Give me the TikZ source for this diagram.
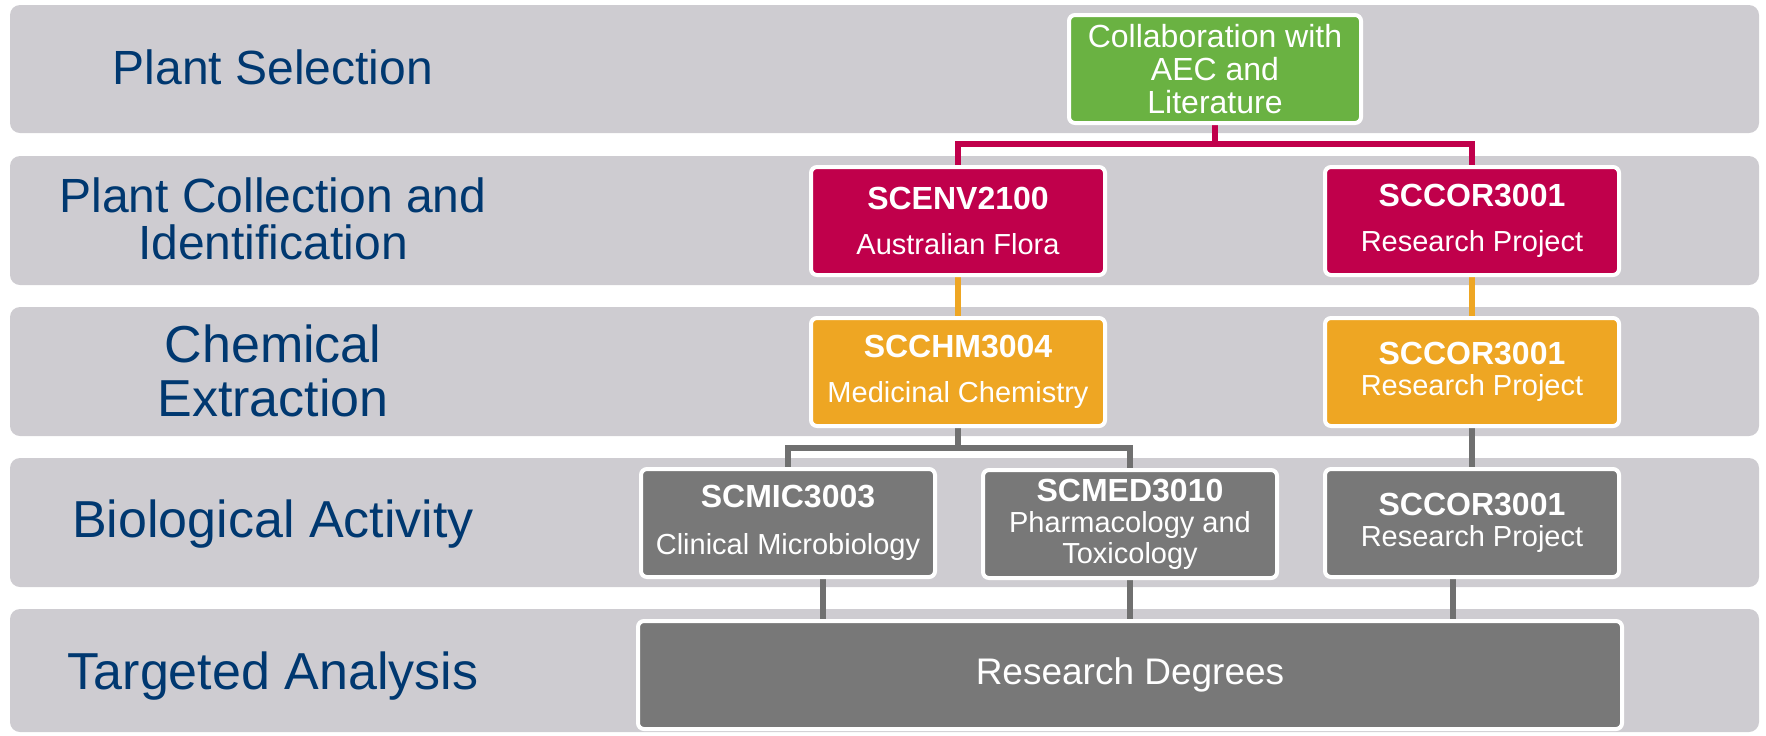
\documentclass[tikz,border=0pt]{standalone}
\usepackage{fontspec}
\setmainfont{Liberation Sans}
\usetikzlibrary{calc}
\definecolor{bandgray}{RGB}{206,204,209}
\definecolor{labelblue}{RGB}{0,56,112}
\definecolor{aecgreen}{RGB}{106,178,66}
\definecolor{unitred}{RGB}{192,0,75}
\definecolor{unitorange}{RGB}{238,166,35}
\definecolor{unitgray}{RGB}{120,120,120}
\definecolor{linegray}{RGB}{112,112,112}
\pgfdeclarelayer{back}
\pgfdeclarelayer{mid}
\pgfsetlayers{back,mid,main}
\newcommand{\course}[1]{{\fontsize{16}{15.5}\selectfont\bfseries #1}}
\tikzset{
  band/.style = {fill=bandgray, rounded corners=5pt},
  stage/.style = {text=labelblue, align=center, font=\fontsize{24}{23.5}\selectfont},
  unit/.style = {draw=white, line width=2pt, rounded corners=3pt, text=white, align=center,
    minimum width=147pt, minimum height=54pt, inner sep=1pt, font=\fontsize{14.5}{15.5}\selectfont},
  link/.style = {line width=2.6pt},
}

\begin{document}
\begin{tikzpicture}[x=0.5pt, y=-0.5pt]
\useasboundingbox (0,0) rectangle (1766,735);
% rows
\begin{pgfonlayer}{back}
\foreach \ya/\yb in {5/133, 156/285, 307/436, 458/587, 609/732}
  \fill[band] (10,\ya) rectangle (1759,\yb);
\end{pgfonlayer}
% stage labels
\node[stage] (lsel) at (273,67) {Plant Selection};
\node[stage] (lcol) at (273,219) {Plant Collection and\\Identification};
\node[stage, font=\fontsize{26}{27}\selectfont] (lchem) at (273,371) {Chemical\\Extraction};
\node[stage, font=\fontsize{26}{27}\selectfont] (lbio) at (273,524) {Biological Activity};
\node[stage, font=\fontsize{26}{27}\selectfont] (ltarg) at (273,676) {Targeted Analysis};
% units
\node[unit, fill=aecgreen, font=\fontsize{16}{16.5}\selectfont, minimum width=146pt] (aec) at (1215,69) {Collaboration with\\AEC and\\Literature};
\node[unit, fill=unitred] (env) at (958,221) {\course{SCENV2100}\\[7pt]Australian Flora};
\node[unit, fill=unitred] (cor1) at (1472,221) {\course{SCCOR3001}\\[7pt]Research Project};
\node[unit, fill=unitorange] (chm) at (958,372) {\course{SCCHM3004}\\[7pt]Medicinal Chemistry};
\node[unit, fill=unitorange] (cor2) at (1472,372) {\course{SCCOR3001}\\Research Project};
\node[unit, fill=unitgray] (mic) at (788,523) {\course{SCMIC3003}\\[8pt]Clinical Microbiology};
\node[unit, fill=unitgray] (med) at (1130,524) {\course{SCMED3010}\\Pharmacology and\\Toxicology};
\node[unit, fill=unitgray] (cor3) at (1472,523) {\course{SCCOR3001}\\Research Project};
\node[unit, fill=unitgray, minimum width=492pt, font=\fontsize{18.5}{20}\selectfont] (deg) at (1130,675) {Research Degrees};
% connectors
\begin{pgfonlayer}{mid}
\draw[link, unitred] (aec.south) -- ++(0,19) -| (env.north);
\draw[link, unitred] (aec.south) -- ++(0,19) -| (cor1.north);
\draw[link, unitorange] (env) -- (chm);
\draw[link, unitorange] (cor1) -- (cor2);
\draw[link, linegray] (chm.south) -- ++(0,20) -| (mic.north);
\draw[link, linegray] (chm.south) -- ++(0,20) -| (med.north);
\draw[link, linegray] (cor2) -- (cor3);
\draw[link, linegray] ([xshift=17.5pt]mic.south) -- ([xshift=17.5pt]mic.south |- deg.north);
\draw[link, linegray] (med) -- (deg);
\draw[link, linegray] ([xshift=-9.5pt]cor3.south) -- ([xshift=-9.5pt]cor3.south |- deg.north);
\end{pgfonlayer}
\end{tikzpicture}
\end{document}
